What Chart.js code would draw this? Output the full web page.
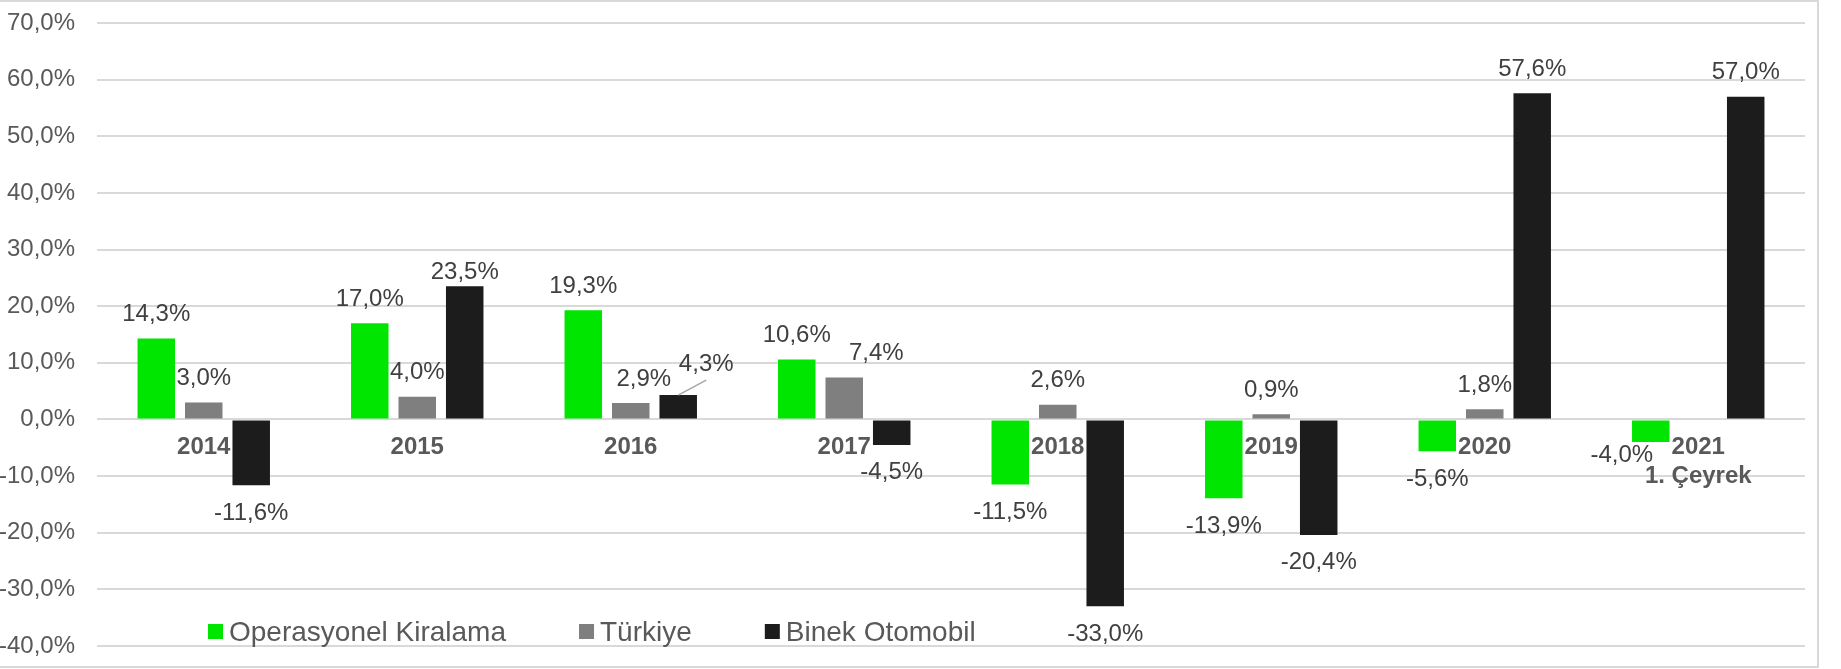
<!DOCTYPE html>
<html>
<head>
<meta charset="utf-8">
<script src="https://cdn.jsdelivr.net/npm/chart.js@4.4.1/dist/chart.umd.min.js"></script>
<style>
  html, body { margin: 0; padding: 0; background: #fff; }
  #wrap { position: relative; width: 1841px; height: 669px; }
</style>
</head>
<body>
<div id="wrap"><canvas id="chart"></canvas></div>
<script>
var years = ['2014', '2015', '2016', '2017', '2018', '2019', '2020', ['2021', '1. Çeyrek']];
var operasyonel = [14.3, 17.0, 19.3, 10.6, -11.5, -13.9, -5.6, -4.0];
var turkiye = [3.0, 4.0, 2.9, 7.4, 2.6, 0.9, 1.8, null];
var binek = [-11.6, 23.5, 4.3, -4.5, -33.0, -20.4, 57.6, 57.0];
var seriesNames = ['Operasyonel Kiralama', 'Türkiye', 'Binek Otomobil'];

// hand-placed labels (dataset-index) moved off the default spot
var labelNudge = {
  '1-2': { dx: 13, dy: 0 },
  '2-2': { dx: 28, dy: -7, leader: true },
  '1-3': { dx: 32, dy: 0 },
  '0-7': { dx: -29, dy: -15 },
  '2-1': { dx: 0, dy: 10 }
};

var fontFamily = '"Liberation Sans", Arial, sans-serif';
var textColor = '#595959';
var gridColor = '#d9d9d9';

function fmt(v) {
  return v.toFixed(1).replace('.', ',') + '%';
}

var frame = {
  id: 'frame',
  beforeDraw: function (chart) {
    var ctx = chart.ctx;
    ctx.save();
    ctx.fillStyle = '#fff';
    ctx.fillRect(0, 0, chart.width, chart.height);
    ctx.strokeStyle = gridColor;
    ctx.lineWidth = 2;
    ctx.beginPath();
    ctx.moveTo(0, 1);
    ctx.lineTo(1818, 1);
    ctx.lineTo(1818, 667);
    ctx.lineTo(0, 667);
    ctx.stroke();
    ctx.restore();
  }
};

var valueLabels = {
  id: 'valueLabels',
  afterDatasetsDraw: function (chart) {
    var ctx = chart.ctx;
    ctx.save();
    ctx.font = '24px ' + fontFamily;
    ctx.textAlign = 'center';
    ctx.textBaseline = 'alphabetic';
    chart.data.datasets.forEach(function (ds, di) {
      var meta = chart.getDatasetMeta(di);
      meta.data.forEach(function (bar, i) {
        var v = ds.data[i];
        if (v === null || v === undefined) return;
        var n = labelNudge[di + '-' + i] || {};
        var x = bar.x + (n.dx || 0);
        var y = (v >= 0 ? bar.y - 26 : bar.y + 26) + (n.dy || 0);
        if (n.leader) {
          ctx.strokeStyle = '#a6a6a6';
          ctx.lineWidth = 1.5;
          ctx.beginPath();
          ctx.moveTo(bar.x, bar.y);
          ctx.lineTo(x, y + 18);
          ctx.stroke();
        }
        ctx.fillStyle = '#404040';
        ctx.fillText(fmt(v), x, y + 8.5);
      });
    });
    ctx.restore();
  }
};

var insideLegend = {
  id: 'insideLegend',
  afterDraw: function (chart) {
    var ctx = chart.ctx;
    var x = chart.chartArea.left + 111;
    var base = 641;
    ctx.save();
    ctx.font = '28px ' + fontFamily;
    ctx.textAlign = 'left';
    ctx.textBaseline = 'alphabetic';
    chart.data.datasets.forEach(function (ds) {
      ctx.fillStyle = ds.backgroundColor;
      ctx.fillRect(x, base - 17, 15, 15);
      ctx.fillStyle = textColor;
      ctx.fillText(ds.label, x + 21, base);
      x += 21 + ctx.measureText(ds.label).width + 73;
    });
    ctx.restore();
  }
};

function init() {
  var ctx = document.getElementById('chart');
  new Chart(ctx, {
    type: 'bar',
    data: {
      labels: years,
      datasets: [
        { label: seriesNames[0], data: operasyonel, backgroundColor: '#00e600' },
        { label: seriesNames[1], data: turkiye, backgroundColor: '#7f7f7f' },
        { label: seriesNames[2], data: binek, backgroundColor: '#1c1c1c' }
      ]
    },
    options: {
      responsive: true,
      maintainAspectRatio: false,
      animation: false,
      layout: { padding: { top: 23, bottom: 23, left: 0, right: 36 } },
      datasets: {
        bar: { categoryPercentage: 0.667, barPercentage: 0.79, borderWidth: 0 }
      },
      plugins: {
        legend: { display: false },
        tooltip: { enabled: false }
      },
      scales: {
        x: {
          position: { y: 0 },
          grid: { display: false, drawTicks: false },
          border: { display: false },
          ticks: {
            color: textColor,
            padding: 14,
            maxRotation: 0,
            autoSkip: false,
            font: { family: fontFamily, size: 24, weight: 'bold', lineHeight: 1.2 }
          }
        },
        y: {
          min: -40,
          max: 70,
          afterFit: function (scale) {
            scale.width = 97;
          },
          // invisible tick marks give the label gap without padding the top/bottom
          grid: { color: gridColor, lineWidth: 2, drawTicks: true, tickLength: 22, tickColor: 'rgba(0,0,0,0)' },
          border: { display: false },
          ticks: {
            stepSize: 10,
            color: textColor,
            padding: 0,
            font: { family: fontFamily, size: 24 },
            callback: function (v) {
              return fmt(v);
            }
          }
        }
      }
    },
    plugins: [frame, valueLabels, insideLegend]
  });
}

if (document.readyState === 'loading') {
  document.addEventListener('DOMContentLoaded', init);
} else {
  init();
}
</script>
</body>
</html>
